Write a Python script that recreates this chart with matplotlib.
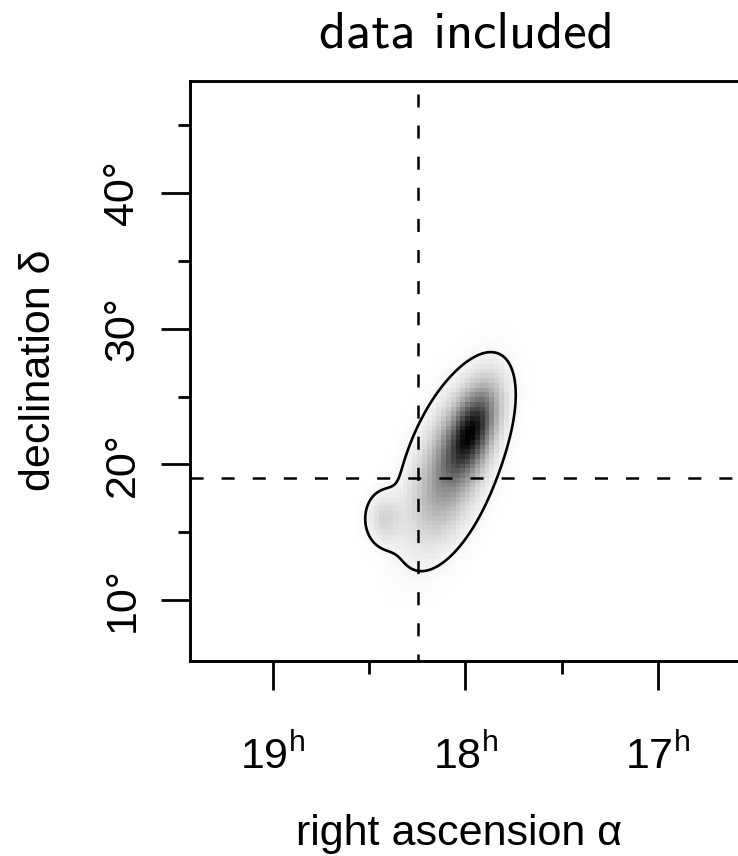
import numpy as np
import matplotlib
matplotlib.use("Agg")
import matplotlib.pyplot as plt

# ---------------- data ----------------
# Gaussian-mixture description of the posterior density (RA in hours, Dec in degrees)
comp_ra = [17.962, 18.075, 18.418]
comp_dec = [22.60, 19.80, 16.0]
comp_sd_ra = [0.085, 0.134, 0.060]
comp_sd_dec = [2.10, 3.50, 1.20]
comp_rho = [-0.50, -0.52, 0.0]
comp_weight = [0.38, 0.62, 0.04]
hpd_mass = 0.95

# reference position (dashed cross-hair)
ref_ra = 18.245
ref_dec = 18.97

# axes
ra_lim = (19.428, 16.471)
dec_lim = (5.5, 48.26)
ra_major = [19, 18, 17]
ra_minor = [18.5, 17.5]
ra_labels = [r"$19^{\mathrm{h}}$", r"$18^{\mathrm{h}}$", r"$17^{\mathrm{h}}$"]
dec_major = [10, 20, 30, 40]
dec_minor = [15, 25, 35, 45]
dec_labels = ["10°", "20°", "30°", "40°"]

title = "data included"
xlabel = "right ascension α"
ylabel = "declination δ"

# image raster resolution
ra_step = 0.025
dec_step = 0.35

# ---------------- styling ----------------
plt.rcParams["font.family"] = ["Liberation Sans", "DejaVu Sans"]
plt.rcParams["mathtext.fontset"] = "custom"
plt.rcParams["mathtext.rm"] = "Liberation Sans"
plt.rcParams["mathtext.it"] = "Liberation Sans:italic"
plt.rcParams["lines.scale_dashes"] = False


def density(ra, dec):
    d = np.zeros_like(ra, dtype=float)
    for m1, m2, s1, s2, r, w in zip(comp_ra, comp_dec, comp_sd_ra, comp_sd_dec,
                                    comp_rho, comp_weight):
        z1 = (ra - m1) / s1
        z2 = (dec - m2) / s2
        q = (z1 ** 2 - 2 * r * z1 * z2 + z2 ** 2) / (1 - r ** 2)
        d += w / (2 * np.pi * s1 * s2 * np.sqrt(1 - r ** 2)) * np.exp(-0.5 * q)
    return d


W, H = 738, 856
fig = plt.figure(figsize=(W / 100, H / 100), dpi=100)
ax = fig.add_axes([190 / W, 1 - 661 / H, (760 - 190) / W, (661 - 81) / H])

# raster image
ra_edges = np.arange(16.4, 19.5 + ra_step, ra_step)
dec_edges = np.arange(5.0, 49.0 + dec_step, dec_step)
rc = 0.5 * (ra_edges[1:] + ra_edges[:-1])
dc = 0.5 * (dec_edges[1:] + dec_edges[:-1])
RA, DEC = np.meshgrid(rc, dc)
Z = density(RA, DEC)
ax.pcolormesh(ra_edges, dec_edges, Z, cmap="gray_r", vmin=0, vmax=Z.max(),
              shading="flat", rasterized=True, zorder=1)

# HPD contour on a fine grid
rf = np.linspace(17.3, 19.0, 500)
df = np.linspace(5.0, 36.0, 500)
RF, DF = np.meshgrid(rf, df)
ZF = density(RF, DF)
zs = np.sort(ZF.ravel())[::-1]
cs = np.cumsum(zs)
level = zs[np.searchsorted(cs, hpd_mass * cs[-1])]
ax.contour(RF, DF, ZF, levels=[level], colors="black", linewidths=1.9, zorder=3)

# cross-hair
ax.axhline(ref_dec, color="black", lw=1.8, linestyle=(0, (9.4, 13.0)), zorder=4)
ax.axvline(ref_ra, color="black", lw=1.8, linestyle=(4.3, (9.4, 13.0)), zorder=4)

ax.set_xlim(*ra_lim)
ax.set_ylim(*dec_lim)

for s in ["left", "top", "bottom"]:
    ax.spines[s].set_linewidth(2.1)
ax.spines["right"].set_visible(False)

ax.set_xticks(ra_major)
ax.set_xticklabels(ra_labels)
ax.set_xticks(ra_minor, minor=True)
ax.set_yticks(dec_major)
ax.set_yticklabels(dec_labels, rotation=90, va="center")
ax.set_yticks(dec_minor, minor=True)
ax.tick_params(which="major", length=21.2, width=2.0, labelsize=31)
ax.tick_params(which="minor", length=9.0, width=2.0)
ax.tick_params(axis="x", which="major", pad=32)
ax.tick_params(axis="y", which="major", pad=13)

fig.text(466 / W, 1 - 47 / H, title, fontfamily="cmss10", fontsize=38,
         ha="center", va="baseline")
fig.text(459 / W, 1 - 845 / H, xlabel, fontsize=31, ha="center", va="baseline")
fig.text(50 / W, 1 - 370 / H, ylabel, fontsize=31, ha="center", va="baseline",
         rotation=90, rotation_mode="anchor")

fig.savefig("out.png", dpi=100)
